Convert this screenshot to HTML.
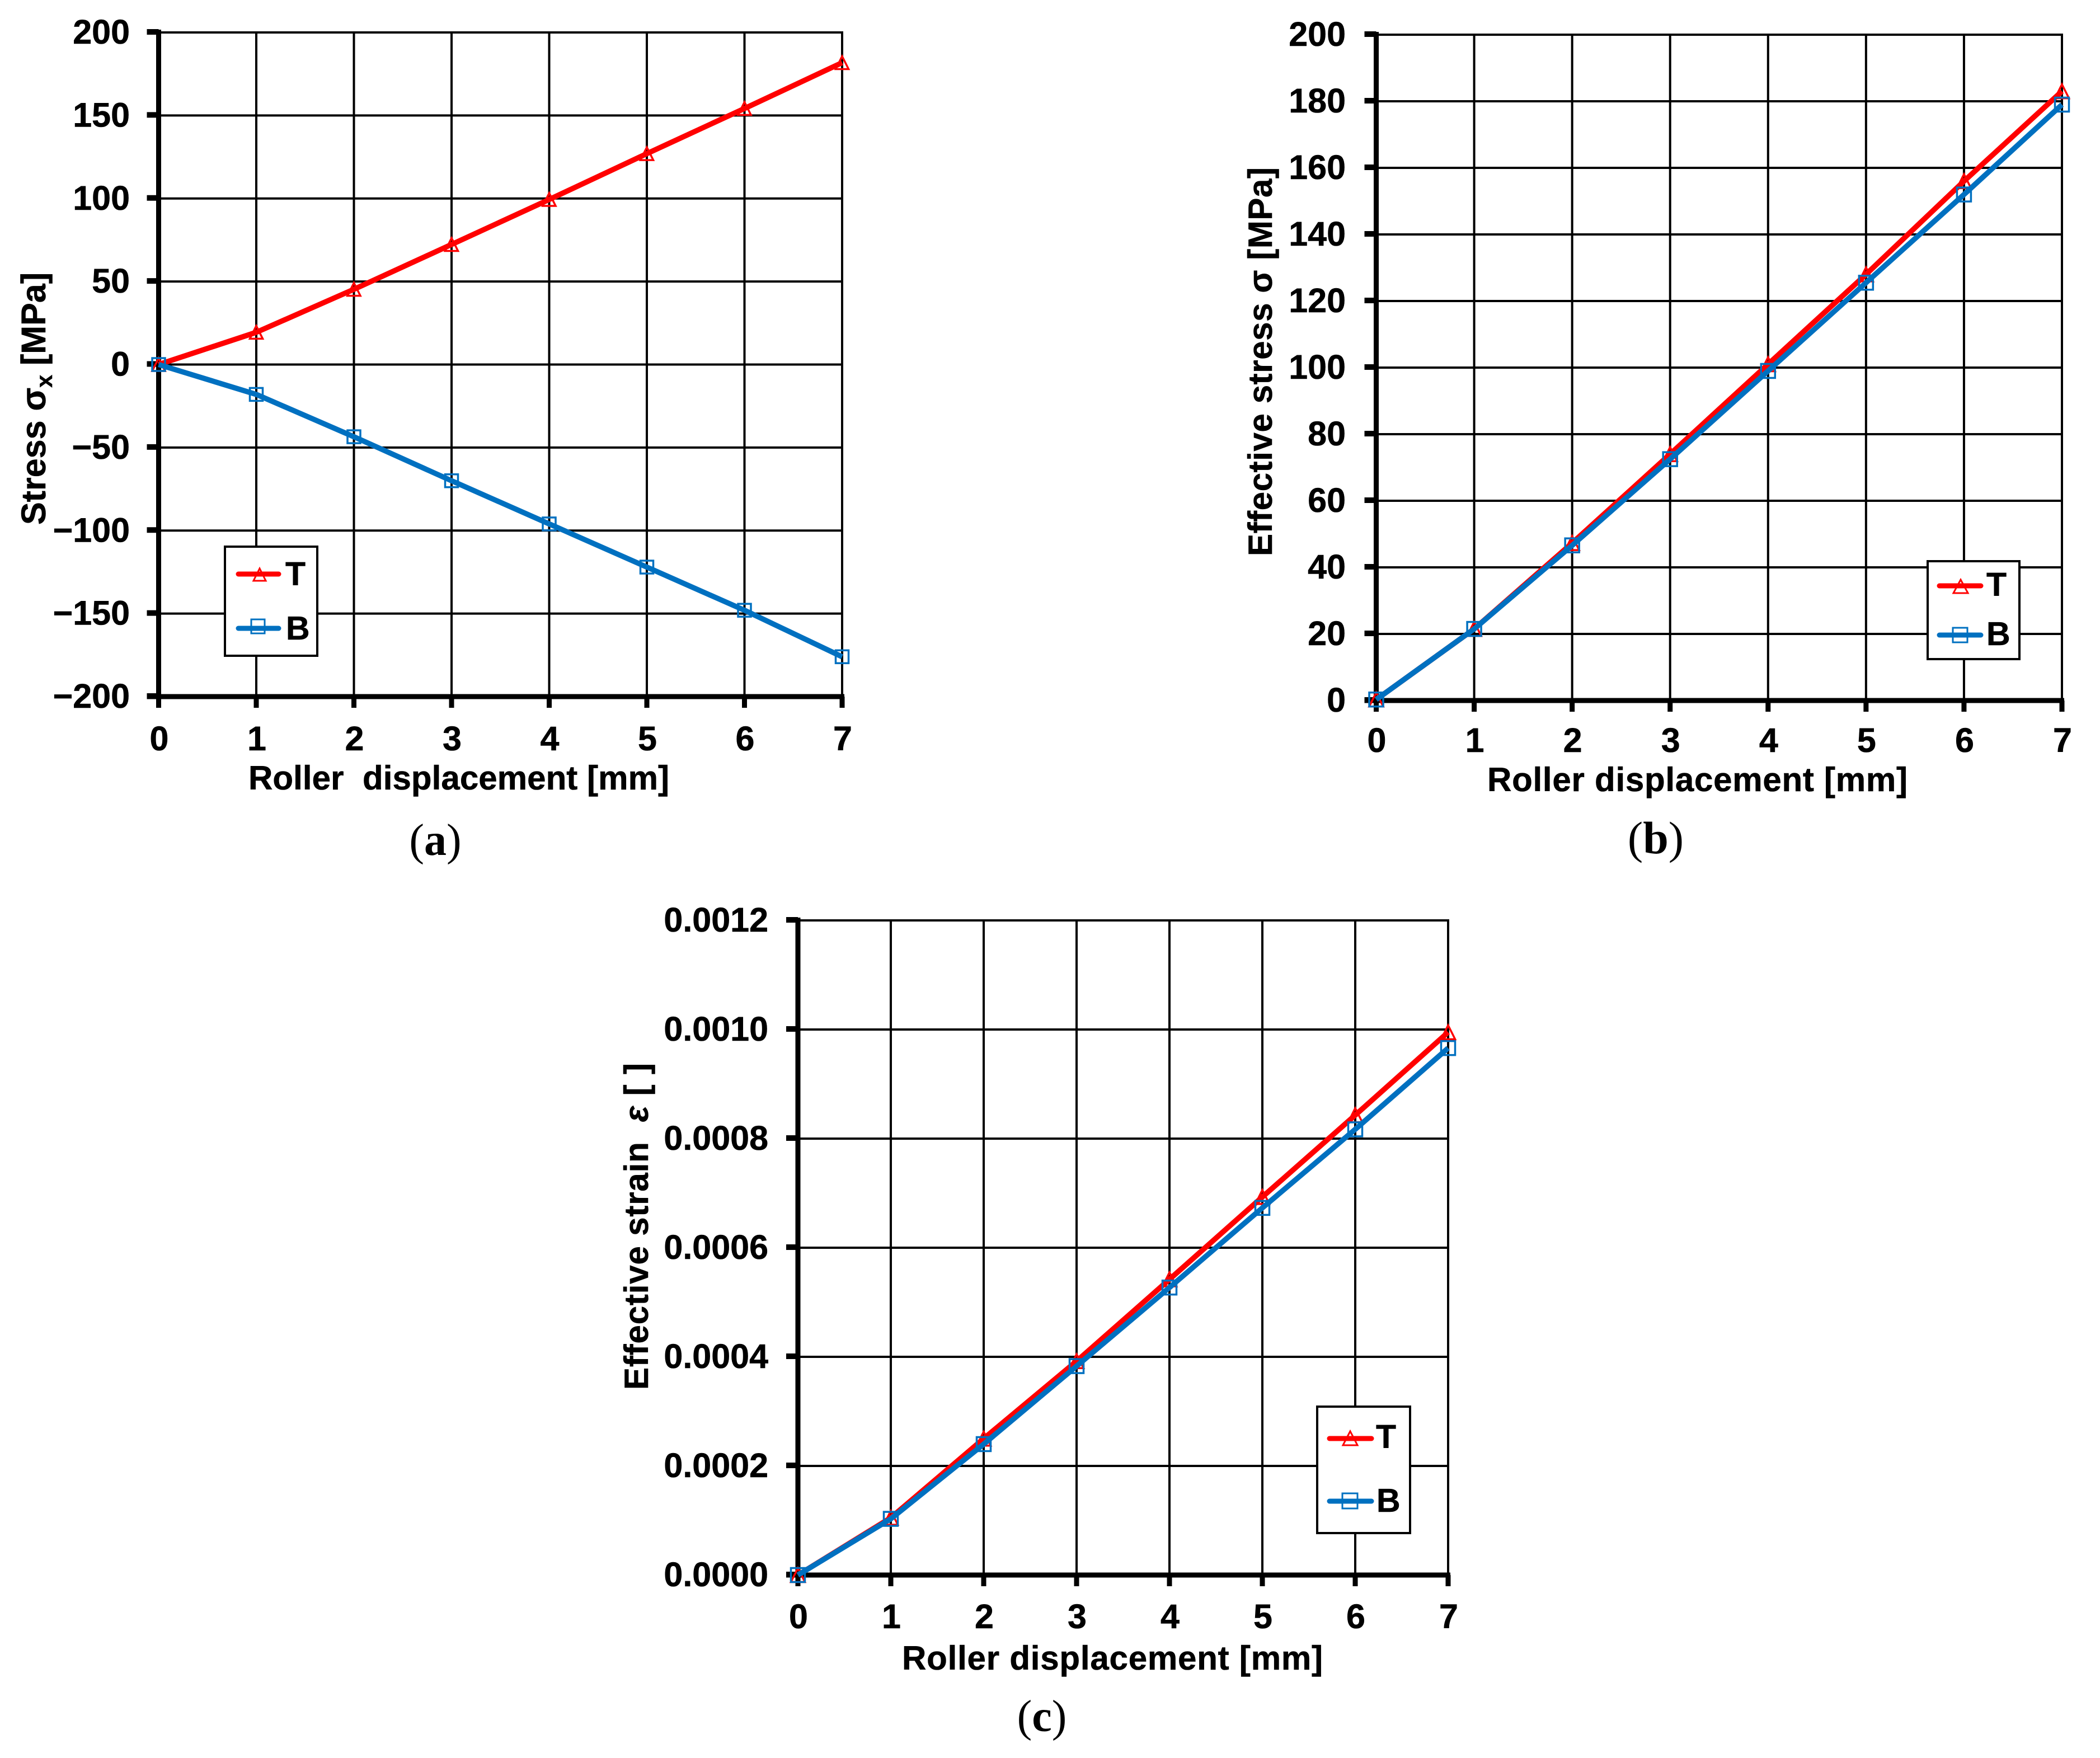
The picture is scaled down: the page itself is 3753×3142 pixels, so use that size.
<!DOCTYPE html>
<html lang="en">
<head>
<meta charset="utf-8">
<title>Roller displacement charts</title>
<style>
html,body{margin:0;padding:0;background:#fff;}
svg{display:block;}
text{font-family:"Liberation Sans",Arial,sans-serif;font-weight:700;fill:#000;stroke:#000;stroke-width:.6px;}
.cap{font-family:"Liberation Serif","Times New Roman",serif;font-weight:400;font-size:80px;stroke:none;}
.cap tspan{font-weight:700;}
.tick{font-size:61px;}
.title{font-size:60px;}
.leg{font-size:59px;}
</style>
</head>
<body>
<svg id="root" width="3753" height="3142" viewBox="0 0 3753 3142" xmlns="http://www.w3.org/2000/svg">
<rect width="3753" height="3142" fill="#fff"/>

<g id="chart-a">
  <g id="a-plot"></g>
  <g>
    <rect x="402" y="977" width="165" height="195" fill="#fff" stroke="#000" stroke-width="4"/>
    <g>
      <line x1="426" y1="1026" x2="498" y2="1026" stroke="#ff0000" stroke-width="9" stroke-linecap="round"/>
      <polygon points="464,1016 453,1038 475,1038" fill="none" stroke="#ff0000" stroke-width="3"/>
      <text class="leg" x="510" y="1046">T</text>
    </g>
    <g>
      <line x1="426" y1="1123" x2="498" y2="1123" stroke="#0070c0" stroke-width="9" stroke-linecap="round"/>
      <rect x="449" y="1107" width="24" height="25" fill="none" stroke="#0070c0" stroke-width="3"/>
      <text class="leg" x="511" y="1143">B</text>
    </g>
  </g>
  <text class="title" x="444" y="1411" textLength="752" lengthAdjust="spacing" xml:space="preserve">Roller  displacement [mm]</text>
  <text class="title" style="font-size:61px" transform="translate(81,938) rotate(-90)">Stress σ<tspan font-size="41" dy="12">x</tspan><tspan dy="-12"> [MPa]</tspan></text>
  <text class="cap" x="778" y="1528" text-anchor="middle">(<tspan>a</tspan>)</text>
</g>

<g id="chart-b">
  <g id="b-plot"></g>
  <g>
    <rect x="3445" y="1003" width="164" height="175" fill="#fff" stroke="#000" stroke-width="4"/>
    <g>
      <line x1="3466" y1="1047" x2="3540" y2="1047" stroke="#ff0000" stroke-width="9" stroke-linecap="round"/>
      <polygon points="3504,1036 3491,1060 3517,1060" fill="none" stroke="#ff0000" stroke-width="3"/>
      <text class="leg" x="3550" y="1065">T</text>
    </g>
    <g>
      <line x1="3466" y1="1135" x2="3540" y2="1135" stroke="#0070c0" stroke-width="9" stroke-linecap="round"/>
      <rect x="3490" y="1122" width="26" height="26" fill="none" stroke="#0070c0" stroke-width="3"/>
      <text class="leg" x="3550" y="1153">B</text>
    </g>
  </g>
  <text class="title" x="2658" y="1414" textLength="751" lengthAdjust="spacing">Roller displacement [mm]</text>
  <text class="title" transform="translate(2273,994) rotate(-90)" textLength="695" lengthAdjust="spacing">Effective stress σ [MPa]</text>
  <text class="cap" x="2959" y="1525" text-anchor="middle" style="font-size:82px">(<tspan>b</tspan>)</text>
</g>

<g id="chart-c">
  <g id="c-plot"></g>
  <g>
    <rect x="2354" y="2514" width="166" height="226" fill="#fff" stroke="#000" stroke-width="4"/>
    <g>
      <line x1="2376" y1="2571" x2="2451" y2="2571" stroke="#ff0000" stroke-width="9" stroke-linecap="round"/>
      <polygon points="2413,2558 2400,2583 2426,2583" fill="none" stroke="#ff0000" stroke-width="3"/>
      <text class="leg" x="2459" y="2588">T</text>
    </g>
    <g>
      <line x1="2376" y1="2683" x2="2451" y2="2683" stroke="#0070c0" stroke-width="9" stroke-linecap="round"/>
      <rect x="2399" y="2669" width="27" height="27" fill="none" stroke="#0070c0" stroke-width="3"/>
      <text class="leg" x="2460" y="2702">B</text>
    </g>
  </g>
  <text class="title" x="1612" y="2984" textLength="752" lengthAdjust="spacing">Roller displacement [mm]</text>
  <text class="title" transform="translate(1158,2484) rotate(-90)" textLength="584" lengthAdjust="spacing" xml:space="preserve">Effective strain  <tspan font-style="italic">ε</tspan> [ ]</text>
  <text class="cap" x="1862" y="3094" text-anchor="middle">(<tspan>c</tspan>)</text>
</g>
</svg>

<script>
const xValues = [0, 1, 2, 3, 4, 5, 6, 7];
const xTickLabels = ['0', '1', '2', '3', '4', '5', '6', '7'];

const stressYTicks = [200, 150, 100, 50, 0, -50, -100, -150, -200];
const stressYLabels = ['200', '150', '100', '50', '0', '\u221250', '\u2212100', '\u2212150', '\u2212200'];
const stressT = [0, 19.4, 45.3, 72.3, 99.4, 127, 154.2, 181.8];
const stressB = [0, -18, -43.5, -70, -96, -122, -148, -176];

const effStressYTicks = [200, 180, 160, 140, 120, 100, 80, 60, 40, 20, 0];
const effStressYLabels = ['200', '180', '160', '140', '120', '100', '80', '60', '40', '20', '0'];
const effStressT = [0.3, 21.5, 47.3, 74, 101, 128, 156, 183];
const effStressB = [0.3, 21.5, 46.6, 72.5, 99, 125.5, 152, 179];

const strainYTicks = [0.0012, 0.0010, 0.0008, 0.0006, 0.0004, 0.0002, 0];
const strainYLabels = ['0.0012', '0.0010', '0.0008', '0.0006', '0.0004', '0.0002', '0.0000'];
const strainT = [0, 0.000105, 0.00025, 0.000392, 0.000542, 0.000693, 0.000843, 0.000995];
const strainB = [0, 0.000103, 0.00024, 0.000383, 0.000527, 0.000673, 0.000817, 0.000966];

const NS = 'http://www.w3.org/2000/svg';

function mk(parent, tag, attrs) {
  const el = document.createElementNS(NS, tag);
  for (const k in attrs) el.setAttribute(k, attrs[k]);
  parent.appendChild(el);
  return el;
}

function drawChart(o) {
  const g = document.getElementById(o.id);
  const sx = function (v) { return o.left + (v - xValues[0]) / (xValues[xValues.length - 1] - xValues[0]) * (o.right - o.left); };
  const sy = function (v) { return o.bottom + (v - o.yMin) / (o.yMax - o.yMin) * (o.top - o.bottom); };

  o.yTicks.forEach(function (v, i) {
    const y = sy(v);
    const grid = mk(g, 'line', { x1: o.left, x2: o.right, y1: y, y2: y, stroke: '#000', 'stroke-width': 4 });
    
    
    const tick = mk(g, 'line', { x1: o.left - 21, x2: o.left, y1: y - 1, y2: y - 1, stroke: '#000', 'stroke-width': 10 });
    
    
    const label = mk(g, 'text', { x: o.yLabelRight, y: y + 20, 'text-anchor': 'end', class: 'tick' });
    
    
    label.textContent = o.yLabels[i];
  });

  xValues.forEach(function (v, i) {
    const x = sx(v);
    if (i > 0) {
      const grid = mk(g, 'line', { x1: x, x2: x, y1: o.top - 2, y2: o.bottom, stroke: '#000', 'stroke-width': 4 });
      
      
    }
    const tick = mk(g, 'line', { x1: x, x2: x, y1: o.bottom, y2: o.bottom + 20, stroke: '#000', 'stroke-width': 9 });
    
    
    const label = mk(g, 'text', { x: x + 1, y: o.xLabelY, 'text-anchor': 'middle', class: 'tick' });
    
    
    label.textContent = xTickLabels[i];
  });

  const yAxis = mk(g, 'line', { x1: o.left, x2: o.left, y1: o.top - 5, y2: o.bottom + 20, stroke: '#000', 'stroke-width': 9 });
  
  
  const xAxis = mk(g, 'line', { x1: o.left - 21, x2: o.right + 4, y1: o.bottom, y2: o.bottom, stroke: '#000', 'stroke-width': 9 });
  
  

  const lineAttrs = { fill: 'none', 'stroke-width': 9.5, 'stroke-linejoin': 'round' };
  const h = o.marker / 2;

  const tLine = mk(g, 'polyline', Object.assign({}, lineAttrs, {
    stroke: '#ff0000',
    points: o.seriesT.map(function (v, i) { return sx(xValues[i]) + ',' + sy(v); }).join(' ')
  }));
  
  
  o.seriesT.forEach(function (v, i) {
    const cx = sx(xValues[i]), cy = sy(v);
    const m = mk(g, 'polygon', {
      points: cx + ',' + (cy - h) + ' ' + (cx - h) + ',' + (cy + h) + ' ' + (cx + h) + ',' + (cy + h),
      fill: 'none', stroke: '#ff0000', 'stroke-width': 3.5
    });
    
    
  });

  const bLine = mk(g, 'polyline', Object.assign({}, lineAttrs, {
    stroke: '#0070c0',
    points: o.seriesB.map(function (v, i) { return sx(xValues[i]) + ',' + sy(v); }).join(' ')
  }));
  
  
  o.seriesB.forEach(function (v, i) {
    const cx = sx(xValues[i]), cy = sy(v);
    const m = mk(g, 'rect', {
      x: cx - h, y: cy - h, width: o.marker, height: o.marker,
      fill: 'none', stroke: '#0070c0', 'stroke-width': 3.5
    });
    
    
  });
}

drawChart({ id: 'a-plot', left: 283.5, right: 1505, top: 58, bottom: 1245, yMin: -200, yMax: 200,
  yTicks: stressYTicks, yLabels: stressYLabels, yLabelRight: 232, xLabelY: 1341,
  seriesT: stressT, seriesB: stressB, marker: 23 });

drawChart({ id: 'b-plot', left: 2459.5, right: 3685, top: 62, bottom: 1252, yMin: 0, yMax: 200,
  yTicks: effStressYTicks, yLabels: effStressYLabels, yLabelRight: 2405, xLabelY: 1344,
  seriesT: effStressT, seriesB: effStressB, marker: 25 });

drawChart({ id: 'c-plot', left: 1426, right: 2588, top: 1645, bottom: 2815, yMin: 0, yMax: 0.0012,
  yTicks: strainYTicks, yLabels: strainYLabels, yLabelRight: 1373, xLabelY: 2910,
  seriesT: strainT, seriesB: strainB, marker: 25 });
</script>
</body>
</html>
